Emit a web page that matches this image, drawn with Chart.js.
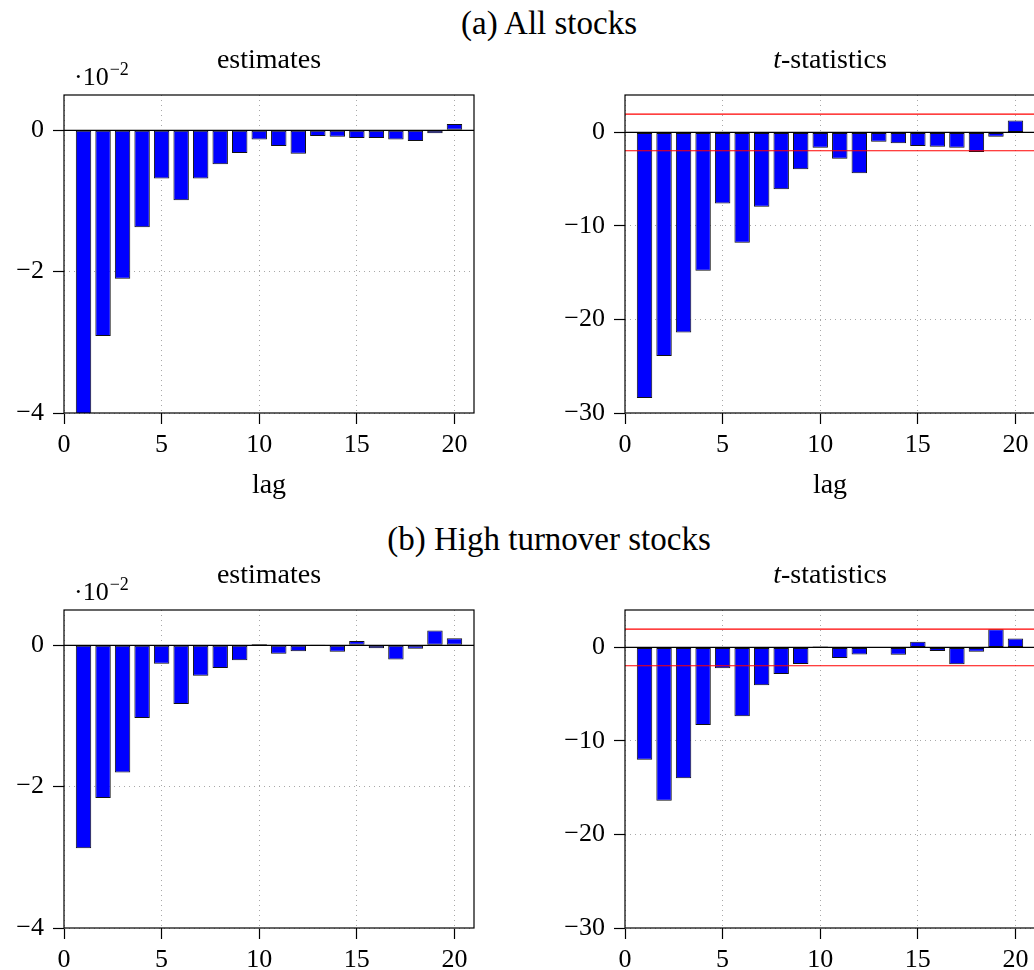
<!DOCTYPE html>
<html>
<head>
<meta charset="utf-8">
<script src="https://cdn.jsdelivr.net/npm/chart.js@4/dist/chart.umd.min.js"></script>
<style>
    body {
        margin: 0;
        width: 1034px;
        height: 970px;
        overflow: hidden;
        position: relative;
        background: #fff;
    }
    canvas {
        position: absolute;
    }
    .panel_heading {
        position: absolute;
        left: 349px;
        width: 400px;
        text-align: center;
        font: 33px/1 'Liberation Serif', serif;
        color: #000;
        white-space: nowrap;
    }
</style>
</head>
<body>
<div class="panel_heading" style="top: 7px">(a) All stocks</div>
<div class="panel_heading" style="top: 523px">(b) High turnover stocks</div>

<canvas id="est_all" width="500" height="470" style="left: 0; top: 40px"></canvas>
<canvas id="tstat_all" width="500" height="470" style="left: 545px; top: 40px"></canvas>
<canvas id="est_high" width="500" height="470" style="left: 0; top: 555px"></canvas>
<canvas id="tstat_high" width="500" height="470" style="left: 545px; top: 555px"></canvas>

<script>
//lags 1..20
const lags = [1, 2, 3, 4, 5, 6, 7, 8, 9, 10, 11, 12, 13, 14, 15, 16, 17, 18, 19, 20];

//all stocks: estimates (units of 1e-2) and t-stats
const estAll = [-4.25, -2.91, -2.10, -1.37, -0.68, -0.99, -0.68, -0.48, -0.32, -0.13,
    -0.22, -0.33, -0.08, -0.09, -0.11, -0.11, -0.13, -0.15, -0.04, 0.09];
const tstatAll = [-28.4, -23.9, -21.4, -14.8, -7.6, -11.8, -7.96, -6.08, -3.95, -1.64,
    -2.81, -4.37, -1.0, -1.17, -1.46, -1.53, -1.64, -2.1, -0.46, 1.28];

//high turnover stocks
const estHigh = [-2.87, -2.16, -1.80, -1.03, -0.26, -0.83, -0.43, -0.32, -0.21, 0.02,
    -0.12, -0.085, 0.005, -0.09, 0.06, -0.04, -0.20, -0.05, 0.21, 0.10];
const tstatHigh = [-12.0, -16.4, -14.0, -8.3, -2.24, -7.35, -4.05, -2.84, -1.78, 0.11,
    -1.14, -0.75, 0.05, -0.78, 0.6, -0.39, -1.81, -0.46, 1.95, 0.96];

//axis ranges / ticks
const lagRange = [0, 21];
const lagTickStep = 5;
const estRange = [-4, 0.5];
const estTickStep = 2;
const tstatRange = [-30, 4];
const tstatTickStep = 10;
const critT = 1.96;

const serif = "'Liberation Serif', serif";
Chart.defaults.font.family = serif;
Chart.defaults.color = '#000';

const fmtTick = (v) => v < 0 ? '\u2212' + (-v) : String(v);

// frame around the plot area + subplot title + the 10^-2 note
const panelDeco = {
    id: 'panelDeco',
    afterDatasetsDraw(chart) {
        const { ctx, chartArea: a } = chart;
        ctx.save();
        ctx.strokeStyle = '#000';
        ctx.lineWidth = 1.2;
        ctx.strokeRect(a.left, a.top, a.right - a.left, a.bottom - a.top);
        ctx.restore();
    },
    afterDraw(chart, args, opts) {
        const { ctx, chartArea: a } = chart;
        const cx = (a.left + a.right) / 2;
        const y = a.top - 27;

        ctx.save();
        ctx.fillStyle = '#000';
        ctx.textBaseline = 'alphabetic';
        ctx.textAlign = 'left';

        const lead = opts.italicLead || '';
        ctx.font = 'italic 28px ' + serif;
        const leadW = ctx.measureText(lead).width;
        ctx.font = '28px ' + serif;
        const restW = ctx.measureText(opts.title).width;
        let x = cx - (leadW + restW) / 2;
        if (lead) {
            ctx.font = 'italic 28px ' + serif;
            ctx.fillText(lead, x, y);
            x += leadW;
        }
        ctx.font = '28px ' + serif;
        ctx.fillText(opts.title, x, y);

        if (opts.scaleNote) {
            const nx = a.left + 10;
            const ny = a.top - 10;
            ctx.font = '26px ' + serif;
            ctx.fillText('\u00b710', nx, ny);
            const w = ctx.measureText('\u00b710').width;
            ctx.font = '18px ' + serif;
            ctx.fillText('\u22122', nx + w + 1, ny - 10);
        }
        ctx.restore();
    }
};

const flatLine = (yVal, color) => ({
    type: 'line',
    data: [{ x: lagRange[0], y: yVal }, { x: lagRange[1], y: yVal }],
    borderColor: color,
    borderWidth: 1.2,
    pointRadius: 0,
    tension: 0
});

const gridStyle = {
    offset: false,
    color: '#a8a8a8',
    lineWidth: 1,
    tickLength: 11,
    tickColor: '#000',
    tickWidth: 1.2
};

const makeLagChart = (canvasId, values, cfg) => {
    const datasets = [];
    if (cfg.critLines) {
        datasets.push(flatLine(critT, '#ff0000'));
        datasets.push(flatLine(-critT, '#ff0000'));
    }
    datasets.push(flatLine(0, '#000'));
    datasets.push({
        type: 'bar',
        data: lags.map((lag, i) => ({ x: lag, y: values[i] })),
        backgroundColor: '#0000ff',
        borderColor: '#111',
        borderWidth: 1,
        borderSkipped: false,
        barPercentage: 0.79,
        categoryPercentage: 1,
        clip: 0
    });

    new Chart(document.getElementById(canvasId), {
        type: 'bar',
        data: { datasets },
        options: {
            responsive: false,
            animation: false,
            devicePixelRatio: 1,
            layout: {
                padding: { top: 55, right: cfg.padRight, bottom: 0, left: 0 }
            },
            plugins: {
                legend: { display: false },
                tooltip: { enabled: false },
                panelDeco: {
                    title: cfg.title,
                    italicLead: cfg.italicLead,
                    scaleNote: cfg.scaleNote
                }
            },
            scales: {
                x: {
                    type: 'linear',
                    offset: false,
                    min: lagRange[0],
                    max: lagRange[1],
                    afterFit: (scale) => { scale.height = 97; },
                    ticks: {
                        stepSize: lagTickStep,
                        includeBounds: false,
                        padding: 6,
                        font: { size: 26 },
                        maxRotation: 0
                    },
                    grid: gridStyle,
                    border: { display: false, dash: [1, 4] },
                    title: {
                        display: true,
                        text: 'lag',
                        font: { size: 28 },
                        padding: { top: 0, bottom: 8 }
                    }
                },
                y: {
                    min: cfg.range[0],
                    max: cfg.range[1],
                    afterFit: (scale) => { scale.width = cfg.yAxisWidth; },
                    ticks: {
                        stepSize: cfg.step,
                        includeBounds: false,
                        padding: 9,
                        font: { size: 26 },
                        callback: fmtTick
                    },
                    grid: gridStyle,
                    border: { display: false, dash: [1, 4] }
                }
            }
        },
        plugins: [panelDeco]
    });
};

makeLagChart('est_all', estAll, {
    range: estRange, step: estTickStep, yAxisWidth: 64, padRight: 26,
    title: 'estimates', scaleNote: true
});
makeLagChart('tstat_all', tstatAll, {
    range: tstatRange, step: tstatTickStep, yAxisWidth: 80, padRight: 10,
    title: '-statistics', italicLead: 't', critLines: true
});
makeLagChart('est_high', estHigh, {
    range: estRange, step: estTickStep, yAxisWidth: 64, padRight: 26,
    title: 'estimates', scaleNote: true
});
makeLagChart('tstat_high', tstatHigh, {
    range: tstatRange, step: tstatTickStep, yAxisWidth: 80, padRight: 10,
    title: '-statistics', italicLead: 't', critLines: true
});
</script>
</body>
</html>
